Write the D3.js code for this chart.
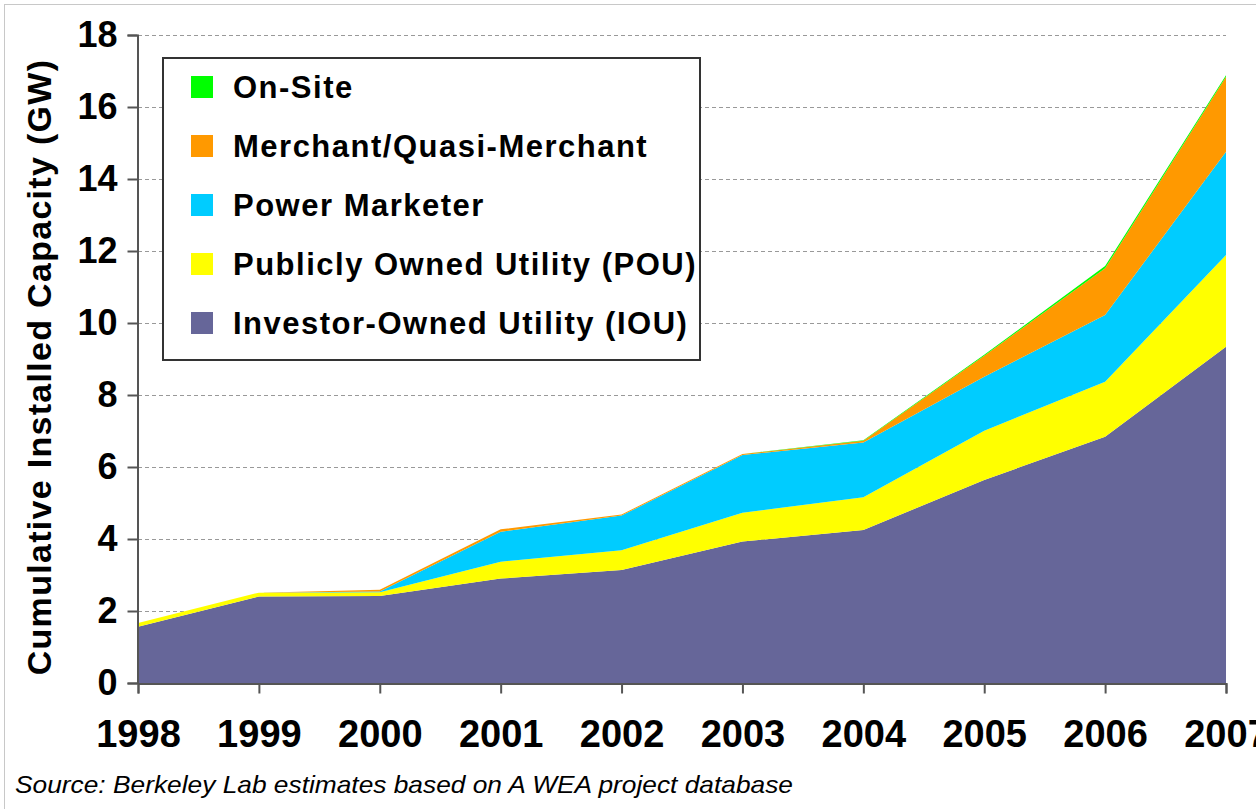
<!DOCTYPE html>
<html>
<head>
<meta charset="utf-8">
<script src="https://cdn.jsdelivr.net/npm/d3@7"></script>
<style>
  body { margin: 0; background: #fff; }
  svg { display: block; font-family: "Liberation Sans", Arial, sans-serif; }
</style>
</head>
<body>
<div id="chart"></div>
<script>
// data (GW, cumulative per segment)
var years = [1998, 1999, 2000, 2001, 2002, 2003, 2004, 2005, 2006, 2007];
var iou      = [1.56, 2.40, 2.42, 2.90, 3.14, 3.93, 4.25, 5.64, 6.84, 9.34];
var pou      = [0.11, 0.11, 0.10, 0.47, 0.55, 0.80, 0.91, 1.37, 1.53, 2.55];
var marketer = [0.00, 0.00, 0.02, 0.83, 0.96, 1.60, 1.52, 1.50, 1.85, 2.87];
var merchant = [0.00, 0.00, 0.05, 0.07, 0.03, 0.03, 0.05, 0.58, 1.30, 2.08];
var onsite   = [0.00, 0.00, 0.00, 0.00, 0.00, 0.00, 0.01, 0.03, 0.06, 0.04];
var yTicks = [0, 2, 4, 6, 8, 10, 12, 14, 16, 18];

var seriesKeys = ["iou", "pou", "marketer", "merchant", "onsite"];
var seriesNames = {
    iou: "Investor-Owned Utility (IOU)",
    pou: "Publicly Owned Utility (POU)",
    marketer: "Power Marketer",
    merchant: "Merchant/Quasi-Merchant",
    onsite: "On-Site"
};
var colors = {
    iou: "#666699",
    pou: "#ffff00",
    marketer: "#00ccff",
    merchant: "#ff9900",
    onsite: "#00ff00"
};

var width = 1256, height = 809;
var margin = {left: 138, right: 30, top: 35, bottom: 126};

var table = years.map(function(y, i) {
    return {year: y, iou: iou[i], pou: pou[i], marketer: marketer[i],
            merchant: merchant[i], onsite: onsite[i]};
});

var svg = d3.select("#chart").append("svg")
    .attr("width", width)
    .attr("height", height);

// faint frame around the picture
svg.append("rect")
    .attr("x", 4.5).attr("y", 4.5)
    .attr("width", width + 10).attr("height", height + 10)
    .attr("fill", "none").attr("stroke", "#c8c8c8");

var x = d3.scaleLinear()
    .domain([1998, 2007])
    .range([margin.left, width - margin.right]);
var y = d3.scaleLinear()
    .domain([0, 18])
    .range([height - margin.bottom, margin.top]);

// dashed gridlines
svg.append("g").selectAll("line")
    .data(yTicks.filter(function(d) { return d > 0; }))
    .enter().append("line")
    .attr("x1", x(1998)).attr("x2", x(2007))
    .attr("y1", function(d) { return Math.round(y(d)) + 0.5; })
    .attr("y2", function(d) { return Math.round(y(d)) + 0.5; })
    .attr("stroke", "#999")
    .attr("stroke-dasharray", "4,3");

// stacked areas
var stack = d3.stack().keys(seriesKeys);
var layers = stack(table);

var area = d3.area()
    .x(function(d) { return x(d.data.year); })
    .y0(function(d) { return y(d[0]); })
    .y1(function(d) { return y(d[1]); });

svg.append("g").selectAll("path")
    .data(layers)
    .enter().append("path")
    .attr("fill", function(d) { return colors[d.key]; })
    .attr("d", area);

// axes
var yAxis = d3.axisLeft(y).tickValues(yTicks).tickSize(10).tickPadding(10);
var gy = svg.append("g")
    .attr("transform", "translate(" + (margin.left - 0.5) + ",0)")
    .call(yAxis);
gy.select(".domain").attr("stroke", "#555").attr("stroke-width", 2);
gy.selectAll(".tick line").attr("stroke", "#555").attr("stroke-width", 2);
gy.selectAll(".tick text")
    .attr("fill", "#000")
    .style("font-size", "36px")
    .style("font-weight", "bold");

var xAxis = d3.axisBottom(x).tickValues(years).tickFormat(d3.format("d"))
    .tickSize(10).tickPadding(27);
var gx = svg.append("g")
    .attr("transform", "translate(0," + (height - margin.bottom + 0.5) + ")")
    .call(xAxis);
gx.select(".domain").attr("stroke", "#555").attr("stroke-width", 2);
gx.selectAll(".tick line").attr("stroke", "#555").attr("stroke-width", 2);
gx.selectAll(".tick text")
    .attr("fill", "#000")
    .style("font-size", "38px")
    .style("font-weight", "bold");

// y axis title
svg.append("text")
    .attr("transform", "translate(51," + ((margin.top + height - margin.bottom) / 2 + 8) + ") rotate(-90)")
    .attr("text-anchor", "middle")
    .style("font-size", "34px")
    .style("font-weight", "bold")
    .style("letter-spacing", "1.3px")
    .text("Cumulative Installed Capacity (GW)");

// legend
var legend = svg.append("g").attr("transform", "translate(163,58)");
legend.append("rect")
    .attr("width", 537).attr("height", 302)
    .attr("fill", "#fff").attr("stroke", "#333").attr("stroke-width", 2);

var legendKeys = seriesKeys.slice().reverse();
var rows = legend.selectAll("g.row")
    .data(legendKeys)
    .enter().append("g")
    .attr("class", "row")
    .attr("transform", function(d, i) { return "translate(0," + (29 + i * 59) + ")"; });
rows.append("rect")
    .attr("x", 28).attr("y", -11)
    .attr("width", 22).attr("height", 22)
    .attr("fill", function(d) { return colors[d]; });
rows.append("text")
    .attr("x", 70).attr("y", 11)
    .style("font-size", "31px")
    .style("font-weight", "bold")
    .style("letter-spacing", "1.5px")
    .text(function(d) { return seriesNames[d]; });

// source note
svg.append("text")
    .attr("x", 15).attr("y", 793)
    .style("font-size", "24px")
    .style("font-style", "italic")
    .attr("textLength", 778)
    .attr("lengthAdjust", "spacingAndGlyphs")
    .text("Source: Berkeley Lab estimates based on A WEA project database");
</script>
</body>
</html>
